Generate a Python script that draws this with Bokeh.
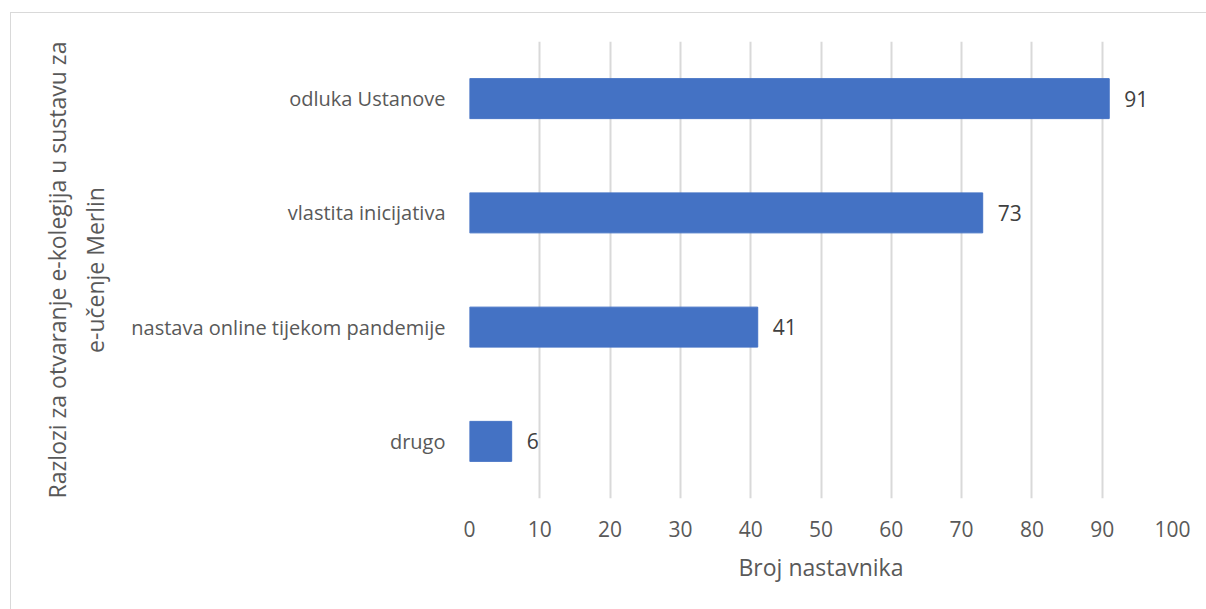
from bokeh.plotting import figure
from bokeh.models import ColumnDataSource, FactorRange, Range1d, FixedTicker, LabelSet
from bokeh.core.properties import value
from bokeh.embed import file_html
from bokeh.resources import INLINE

categories = ["drugo", "nastava online tijekom pandemije", "vlastita inicijativa", "odluka Ustanove"]
counts = [6, 41, 73, 91]
x_ticks = [0, 10, 20, 30, 40, 50, 60, 70, 80, 90, 100]

FONT = "Open Sans"
TXT = "#595959"

src = ColumnDataSource(dict(cat=categories, val=counts, lab=[str(v) for v in counts]))

p = figure(width=1196, height=597, output_backend="svg", toolbar_location=None,
           y_range=FactorRange(*categories, range_padding=0), x_range=Range1d(0, 100),
           min_border_left=459, min_border_right=34, min_border_top=29, min_border_bottom=111)
p.margin = (12, 0, 0, 10)
p.styles = {"box-shadow": "inset 1px 1px 0 0 #d9d9d9"}
p.outline_line_color = None
p.border_fill_color = None
p.background_fill_color = None

p.hbar(y="cat", right="val", left=0, height=0.35, source=src, color="#4472C4",
       line_color="#4472C4")

labels = LabelSet(x="val", y="cat", text="lab", source=src, x_offset=15,
                  text_baseline="middle", text_font=value(FONT), text_font_size="21px",
                  text_color="#404040")
p.add_layout(labels)

p.xaxis.ticker = FixedTicker(ticks=x_ticks)
p.xgrid.ticker = FixedTicker(ticks=x_ticks)
p.xgrid.grid_line_color = "#d9d9d9"
p.xgrid.grid_line_width = 2
p.ygrid.grid_line_color = None

for ax in (p.xaxis[0], p.yaxis[0]):
    ax.axis_line_color = None
    ax.major_tick_line_color = None
    ax.minor_tick_line_color = None
    ax.major_label_text_font = FONT
    ax.major_label_text_color = TXT
    ax.axis_label_text_font = FONT
    ax.axis_label_text_font_size = "23px"
    ax.axis_label_text_color = TXT
    ax.axis_label_text_font_style = "normal"

p.xaxis.major_label_text_font_size = "21px"
p.yaxis.major_label_text_font_size = "20px"
p.xaxis.axis_label = "Broj nastavnika"
p.xaxis.major_label_standoff = 16
p.xaxis.axis_label_standoff = 11
p.yaxis.axis_label = "Razlozi za otvaranje e-kolegija u sustavu za\ne-učenje Merlin"
p.yaxis.major_label_standoff = 18
p.yaxis.axis_label_standoff = 17

open("out.html", "w").write(file_html(p, INLINE))
